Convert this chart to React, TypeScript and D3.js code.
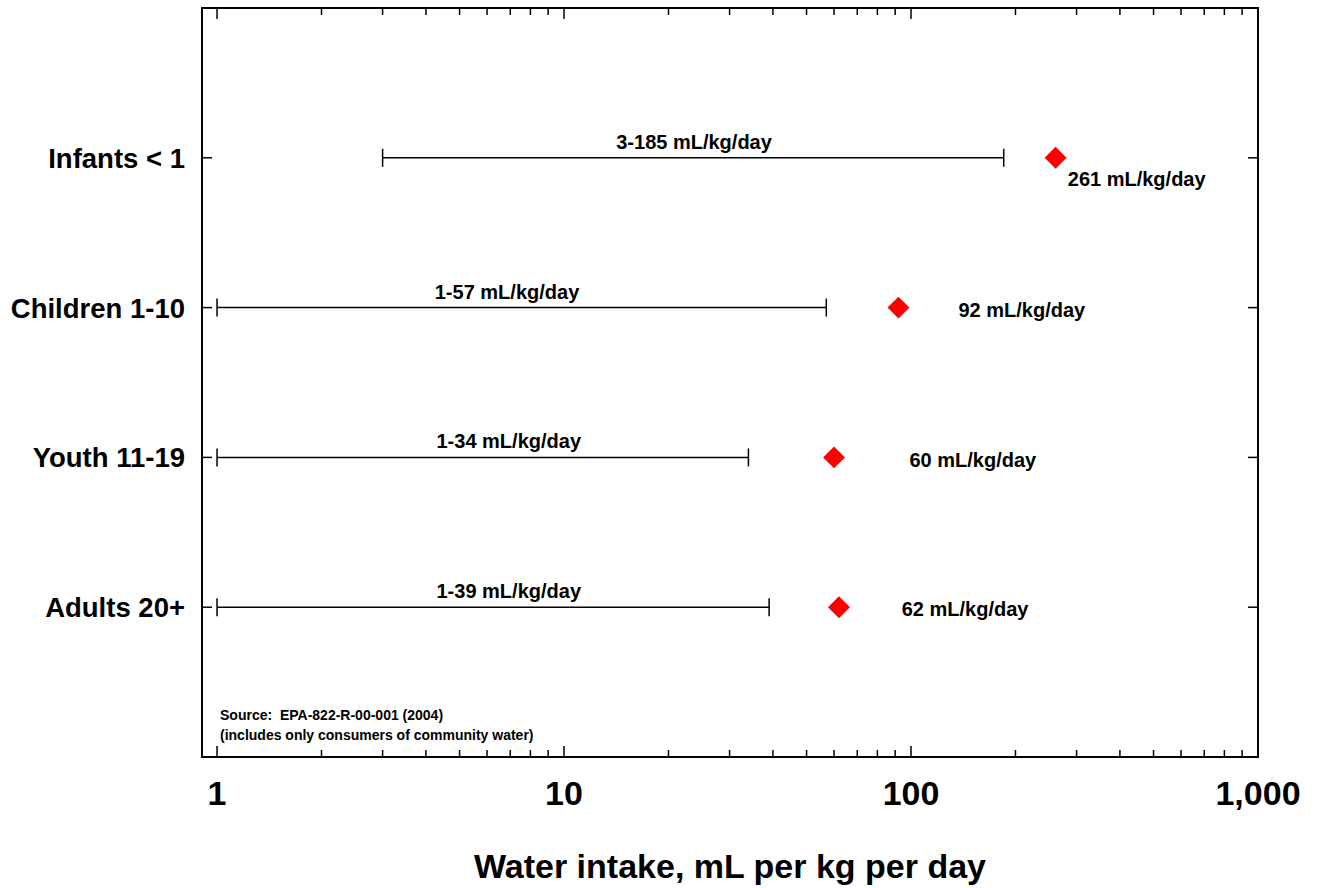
import React from "react";
import * as d3 from "d3";

const groups = ["Infants < 1", "Children 1-10", "Youth 11-19", "Adults 20+"];
const rangeLow = [3, 1, 1, 1];
const rangeHigh = [185, 57, 34, 39];
const pointValues = [261, 92, 60, 62];
const rangeLabels = ["3-185 mL/kg/day", "1-57 mL/kg/day", "1-34 mL/kg/day", "1-39 mL/kg/day"];
const pointLabels = ["261 mL/kg/day", "92 mL/kg/day", "60 mL/kg/day", "62 mL/kg/day"];
const rangeLabelAt = [23.7, 6.85, 6.93, 6.93];
const pointLabelAt = [283, 137, 99, 94];
const majorTicks = [1, 10, 100, 1000];
const majorTickLabels = ["1", "10", "100", "1,000"];
const sourceLines = ["Source:  EPA-822-R-00-001 (2004)", "(includes only consumers of community water)"];
const xTitle = "Water intake, mL per kg per day";

const W = 1317;
const H = 888;
const FONT = "'Liberation Sans', Arial, Helvetica, sans-serif";

export default function App() {
  const x = d3.scaleLog().domain([0.905, 1000]).range([202, 1258]);
  const y = d3.scaleLinear().domain([0, groups.length + 1]).range([8, 757]);
  const [x0, x1] = x.range();
  const [y0, y1] = y.range();

  const minorTicks: number[] = [];
  [1, 10, 100].forEach((d) => {
    for (let k = 2; k <= 9; k++) minorTicks.push(d * k);
  });

  const diamond = d3.symbol().type(d3.symbolSquare).size(240)();

  return (
    <svg width={W} height={H} style={{ position: "absolute", left: 0, top: 0, background: "#fff" }} fontFamily={FONT}>
      <rect x={0} y={0} width={W} height={H} fill="#fff" />
      {/* frame */}
      <rect x={x0} y={y0} width={x1 - x0} height={y1 - y0} fill="none" stroke="#000" strokeWidth={2} />
      {/* x ticks top & bottom */}
      {majorTicks.map((t) => (
        <g key={"M" + t}>
          <line x1={x(t)} x2={x(t)} y1={y0} y2={y0 + 11} stroke="#000" strokeWidth={1.5} />
          <line x1={x(t)} x2={x(t)} y1={y1} y2={y1 - 11} stroke="#000" strokeWidth={1.5} />
        </g>
      ))}
      {minorTicks.map((t) => (
        <g key={"m" + t}>
          <line x1={x(t)} x2={x(t)} y1={y0} y2={y0 + 7} stroke="#000" strokeWidth={1.5} />
          <line x1={x(t)} x2={x(t)} y1={y1} y2={y1 - 7} stroke="#000" strokeWidth={1.5} />
        </g>
      ))}
      {/* y ticks left & right */}
      {groups.map((g, i) => (
        <g key={"yt" + i}>
          <line x1={x0} x2={x0 + 10} y1={y(i + 1)} y2={y(i + 1)} stroke="#000" strokeWidth={1.5} />
          <line x1={x1} x2={x1 - 10} y1={y(i + 1)} y2={y(i + 1)} stroke="#000" strokeWidth={1.5} />
          <text x={185} y={y(i + 1)} dy="0.36em" textAnchor="end" fontSize={27.5} fontWeight="bold">
            {g}
          </text>
        </g>
      ))}
      {/* x tick labels */}
      {majorTicks.map((t, i) => (
        <text key={"xl" + t} x={x(t)} y={805} textAnchor="middle" fontSize={34} fontWeight="bold">
          {majorTickLabels[i]}
        </text>
      ))}
      <text x={(x0 + x1) / 2} y={878} textAnchor="middle" fontSize={34} fontWeight="bold">
        {xTitle}
      </text>
      {/* ranges */}
      {groups.map((g, i) => {
        const yy = y(i + 1);
        const a = x(rangeLow[i]);
        const b = x(rangeHigh[i]);
        return (
          <g key={"r" + i}>
            <line x1={a} x2={b} y1={yy} y2={yy} stroke="#000" strokeWidth={1.5} />
            <line x1={a} x2={a} y1={yy - 9} y2={yy + 9} stroke="#000" strokeWidth={1.5} />
            <line x1={b} x2={b} y1={yy - 9} y2={yy + 9} stroke="#000" strokeWidth={1.5} />
            <text x={x(rangeLabelAt[i])} y={yy - 9} textAnchor="middle" fontSize={20} fontWeight="bold">
              {rangeLabels[i]}
            </text>
          </g>
        );
      })}
      {/* points */}
      {groups.map((g, i) => {
        const yy = y(i + 1);
        return (
          <g key={"p" + i}>
            <path d={diamond || ""} transform={`translate(${x(pointValues[i])},${yy}) rotate(45)`} fill="#ff0000" />
            <text
              x={x(pointLabelAt[i])}
              y={i === 0 ? yy + 21 : yy + 2}
              dy="0.36em"
              textAnchor="start"
              fontSize={20}
              fontWeight="bold"
            >
              {pointLabels[i]}
            </text>
          </g>
        );
      })}
      {/* source */}
      {sourceLines.map((s, i) => (
        <text key={"s" + i} x={220} y={720 + i * 20} fontSize={14} fontWeight="bold" style={{ whiteSpace: "pre" }}>
          {s}
        </text>
      ))}
    </svg>
  );
}
